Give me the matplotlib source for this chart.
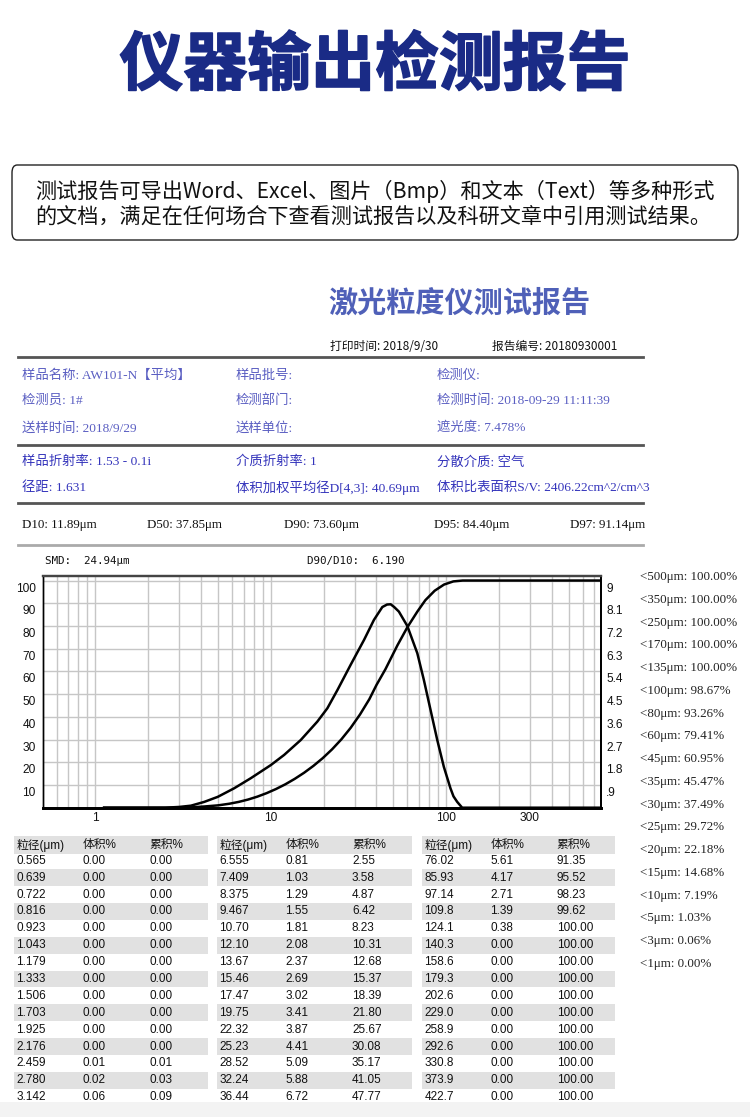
import matplotlib
matplotlib.use('Agg')
import matplotlib.pyplot as plt
import matplotlib.transforms as mtransforms
import matplotlib.patheffects as pe
from matplotlib.lines import Line2D
from matplotlib.patches import Rectangle, FancyBboxPatch
from matplotlib.ticker import FixedLocator, NullFormatter

plt.rcParams['font.family'] = ['Liberation Sans', 'Noto Sans CJK SC']

# ---- data ----
info_rows = [
    ['样品名称: AW101-N【平均】', '样品批号:', '检测仪:'],
    ['检测员: 1#', '检测部门:', '检测时间: 2018-09-29 11:11:39'],
    ['送样时间: 2018/9/29', '送样单位:', '遮光度: 7.478%'],
]
optic_rows = [
    ['样品折射率: 1.53 - 0.1i', '介质折射率: 1', '分散介质: 空气'],
    ['径距: 1.631', '体积加权平均径D[4,3]: 40.69μm', '体积比表面积S/V: 2406.22cm^2/cm^3'],
]
d_labels = ['D10: 11.89μm', 'D50: 37.85μm', 'D90: 73.60μm', 'D95: 84.40μm', 'D97: 91.14μm']

# cumulative curve (%)
cum_size = [1.12, 2.0, 2.459, 2.780, 3.142, 3.6, 4.2, 5.0, 5.8, 6.555, 7.409, 8.375, 9.467,
            10.70, 12.10, 13.67, 15.46, 17.47, 19.75, 22.32, 25.23, 28.52, 32.24, 36.44,
            40.0, 45.0, 52.7, 60.0, 68.4, 76.02, 85.93, 97.14, 109.8, 124.1, 760]
cum_pct = [0, 0, 0.01, 0.03, 0.09, 0.2, 0.55, 1.03, 1.75, 2.55, 3.58, 4.87, 6.42,
           8.23, 10.31, 12.68, 15.37, 18.39, 21.80, 25.67, 30.08, 35.17, 41.05, 47.77,
           54.0, 60.95, 71.5, 79.41, 86.3, 91.35, 95.52, 98.23, 99.62, 100, 100]

# volume distribution curve (right axis)
diff_size = [1.12, 2.5, 3.0, 3.5, 4.17, 4.98, 6.18, 7.69, 10.0, 11.9, 14.8, 18.4, 21.0, 24.0,
             28.5, 34.0, 38.7, 43.2, 46.0, 48.2, 50.5, 53.7, 60.0, 68.4, 74.5, 81.4, 88.9,
             96.9, 105.7, 110.0, 115.5, 123.3, 760]
diff_vol = [0, 0, 0.03, 0.08, 0.23, 0.43, 0.77, 1.17, 1.69, 2.09, 2.68, 3.41, 3.94, 4.67,
            5.66, 6.65, 7.44, 7.95, 8.05, 8.06, 7.95, 7.77, 7.2, 6.12, 5.07, 3.87, 2.68,
            1.62, 0.77, 0.45, 0.23, 0, 0]

under_list = ['<500μm: 100.00%', '<350μm: 100.00%', '<250μm: 100.00%', '<170μm: 100.00%',
              '<135μm: 100.00%', '<100μm: 98.67%', '<80μm: 93.26%', '<60μm: 79.41%',
              '<45μm: 60.95%', '<35μm: 45.47%', '<30μm: 37.49%', '<25μm: 29.72%',
              '<20μm: 22.18%', '<15μm: 14.68%', '<10μm: 7.19%', '<5μm: 1.03%',
              '<3μm: 0.06%', '<1μm: 0.00%']

size1 = ['0.565', '0.639', '0.722', '0.816', '0.923', '1.043', '1.179', '1.333', '1.506',
         '1.703', '1.925', '2.176', '2.459', '2.780', '3.142']
vol1 = ['0.00'] * 12 + ['0.01', '0.02', '0.06']
cum1 = ['0.00'] * 12 + ['0.01', '0.03', '0.09']
size2 = ['6.555', '7.409', '8.375', '9.467', '10.70', '12.10', '13.67', '15.46', '17.47',
         '19.75', '22.32', '25.23', '28.52', '32.24', '36.44']
vol2 = ['0.81', '1.03', '1.29', '1.55', '1.81', '2.08', '2.37', '2.69', '3.02', '3.41',
        '3.87', '4.41', '5.09', '5.88', '6.72']
cum2 = ['2.55', '3.58', '4.87', '6.42', '8.23', '10.31', '12.68', '15.37', '18.39', '21.80',
        '25.67', '30.08', '35.17', '41.05', '47.77']
size3 = ['76.02', '85.93', '97.14', '109.8', '124.1', '140.3', '158.6', '179.3', '202.6',
         '229.0', '258.9', '292.6', '330.8', '373.9', '422.7']
vol3 = ['5.61', '4.17', '2.71', '1.39', '0.38'] + ['0.00'] * 10
cum3 = ['91.35', '95.52', '98.23', '99.62'] + ['100.00'] * 11
table_head = ['粒径(μm)', '体积%', '累积%']

W, H = 750, 1117
fig = plt.figure(figsize=(7.5, 11.17), dpi=100)
fig.patch.set_facecolor('white')


def fx(x):
    return x / W


def fy(y):
    return 1 - y / H


def txt(x, y, s, **kw):
    kw.setdefault('va', 'center')
    fig.text(fx(x), fy(y), s, **kw)


def hline(y, x0, x1, color, lw):
    fig.add_artist(Line2D([fx(x0), fx(x1)], [fy(y), fy(y)], transform=fig.transFigure,
                          color=color, lw=lw))


CJK = ['Noto Sans CJK SC', 'DejaVu Sans']
SERIF_CJK = ['Liberation Serif', 'Noto Sans CJK SC']

# big header
navy = '#1a2b86'
txt(375, 66, '仪器输出检测报告', ha='center', fontsize=46, fontweight='black', color=navy,
    family=CJK, path_effects=[pe.withStroke(linewidth=1.2, foreground=navy)])

box = FancyBboxPatch((fx(12), fy(240)), fx(726), 75 / H, transform=fig.transFigure,
                     boxstyle='round,pad=0,rounding_size=0.007', fc='white', ec='#222', lw=1)
fig.add_artist(box)
txt(35, 191, '测试报告可导出Word、Excel、图片（Bmp）和文本（Text）等多种形式',
    fontsize=15.2, family=CJK, color='#111')
txt(35, 217, '的文档，满足在任何场合下查看测试报告以及科研文章中引用测试结果。',
    fontsize=15.2, family=CJK, color='#111')

# report header
txt(328, 303, '激光粒度仪测试报告', fontsize=21, fontweight='bold', color='#4f60b8', family=CJK)
txt(330, 346, '打印时间: 2018/9/30', fontsize=8.5, family=CJK, color='#111')
txt(492, 346, '报告编号: 20180930001', fontsize=8.5, family=CJK, color='#111')

hline(357, 18, 643, '#555555', 2)
hline(445, 18, 643, '#555555', 2)
hline(503, 18, 643, '#555555', 2)
hline(545, 18, 643, '#aaaaaa', 2)

col_x = [22, 236, 437]
for row, y in zip(info_rows, [376, 401, 428]):
    for s, x in zip(row, col_x):
        txt(x, y, s, fontsize=9.6, family=SERIF_CJK, color='#5a5ec2')
for row, y in zip(optic_rows, [462, 488]):
    for s, x in zip(row, col_x):
        txt(x, y, s, fontsize=9.6, family=SERIF_CJK, color='#3434bb')

for s, x in zip(d_labels, [22, 147, 284, 434, 570]):
    txt(x, 525, s, fontsize=9.4, family=SERIF_CJK, color='#111')

MONO = ['DejaVu Sans Mono', 'Noto Sans CJK SC']
txt(45, 561, 'SMD:  24.94μm', fontsize=7.8, family=MONO, color='#111')
txt(307, 561, 'D90/D10:  6.190', fontsize=7.8, family=MONO, color='#111')

# ---- chart ----
ax = fig.add_axes([fx(42.7), fy(807.7), (600.7 - 42.7) / W, (807.7 - 576) / H])
ax.set_xscale('log')
ax.set_xlim(0.5, 760)
ax.set_ylim(0, 102)
ax.plot(cum_size, cum_pct, color='black', lw=1.8, solid_joinstyle='round')

major_x = [1, 10, 100, 300]
minor_x = [m * 10.0 ** e for e in range(-1, 3) for m in range(2, 10)]
minor_x = [v for v in minor_x if 0.51 < v < 760 and v not in major_x]
ax.xaxis.set_major_locator(FixedLocator(major_x))
ax.set_xticklabels(['1', '10', '100', '300'])
ax.xaxis.set_minor_locator(FixedLocator(minor_x))
ax.xaxis.set_minor_formatter(NullFormatter())
ax.set_yticks(list(range(10, 101, 10)))
ax.set_yticklabels([str(v) for v in range(10, 101, 10)])
ax.grid(True, which='both', axis='x', color='#c6c6c6', lw=1)
ax.grid(True, which='major', axis='y', color='#c6c6c6', lw=1)
ax.tick_params(which='both', length=0, labelsize=8.6, colors='#111')
ax.tick_params(axis='x', pad=3)
ax.tick_params(axis='y', pad=5)

ax2 = ax.twinx()
ax2.set_ylim(0, 102 * 0.09)
ax2.plot(diff_size, diff_vol, color='black', lw=1.8, solid_joinstyle='round')
right_ticks = [round(0.9 * k, 1) for k in range(1, 11)]
ax2.set_yticks(right_ticks)
ax2.set_yticklabels(['.9', '1.8', '2.7', '3.6', '4.5', '5.4', '6.3', '7.2', '8.1', '9'])
ax2.tick_params(length=0, labelsize=8.6, pad=4, colors='#111')

for a in (ax, ax2):
    a.spines['top'].set(color='#444444', lw=1.6)
    a.spines['bottom'].set(color='black', lw=2)
    a.spines['left'].set(color='black', lw=1)
    a.spines['right'].set(color='black', lw=1.3)

shift = mtransforms.ScaledTranslation(0, -0.065, fig.dpi_scale_trans)
for lab in ax.get_yticklabels() + ax2.get_yticklabels():
    lab.set_transform(lab.get_transform() + shift)

# right-hand list
for i, s in enumerate(under_list):
    txt(640, 577 + i * 22.76, s, fontsize=9.4, family=SERIF_CJK, color='#222')

# ---- table ----
blocks = [(14, 208, size1, vol1, cum1), (217, 412, size2, vol2, cum2),
          (421.7, 615, size3, vol3, cum3)]
row0, step = 860.7, 16.9
shade = '#e1e1e1'
for left, right, sz, vo, cu in blocks:
    fig.add_artist(Rectangle((fx(left), fy(853.5)), fx(right - left), 17.5 / H,
                             transform=fig.transFigure, fc=shade, ec='none'))
    for i in range(1, len(sz), 2):
        yc = row0 + i * step
        fig.add_artist(Rectangle((fx(left), fy(yc + step / 2)), fx(right - left), step / H,
                                 transform=fig.transFigure, fc=shade, ec='none'))
    offs = [2.5, 68.5, 135]
    for h, o in zip(table_head, offs):
        txt(left + o, 845, h, fontsize=8.5, color='#111')
    for i in range(len(sz)):
        yc = row0 + i * step
        for s, o in zip([sz[i], vo[i], cu[i]], offs):
            txt(left + o, yc, s, fontsize=8.5, color='#111')

fig.add_artist(Rectangle((0, 0), 1, 15.5 / H, transform=fig.transFigure,
                         fc='#f3f3f3', ec='none', zorder=10))

fig.savefig('out.png', dpi=100)
